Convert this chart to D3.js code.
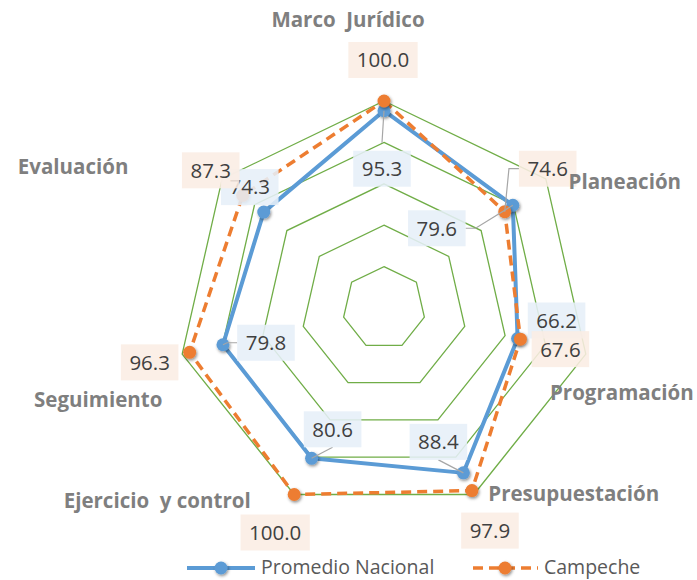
<!DOCTYPE html>
<html>
<head>
<meta charset="utf-8">
<script src="https://cdn.jsdelivr.net/npm/d3@7/dist/d3.min.js"></script>
<style>
  html, body { margin: 0; padding: 0; background: #fff; }
  svg { display: block; }
  text { font-family: "Open Sans", "Liberation Sans", sans-serif; white-space: pre; }
</style>
</head>
<body>
<svg id="chart" width="697" height="580"></svg>
<script>
// ---- data ----
const categories = ["Marco  Jurídico", "Planeación", "Programación", "Presupuestación", "Ejercicio  y control", "Seguimiento", "Evaluación"];
const promedioNacional = [95.3, 79.6, 66.2, 88.4, 80.6, 79.8, 74.3];
const campeche = [100.0, 74.6, 67.6, 97.9, 100.0, 96.3, 87.3];
const ringTicks = [20, 40, 60, 80, 100];
const seriesNames = ["Promedio Nacional", "Campeche"];

// ---- layout (pixel offsets, not data) ----
const catLabelOffsets = [[-36, -74], [79, 10], [36, 46], [100, 6], [-137, 13], [-84, 53], [-149, -5]];
const promLabelOffsets = [[-2, 58], [-76, 23], [39, -18], [-25, -31], [21, -29], [43, -2], [-14, -25]];
const campLabelOffsets = [[-1, -41], [43, -43], [40, 10], [18, 40], [-19, 38], [-40, 10], [-32, -25]];
const promLeaders = [true, true, false, true, true, true, false];
const campLeaders = [false, true, false, false, false, false, false];

const cx = 384, cy = 308, R = 207;
const svg = d3.select("#chart");

const defs = svg.append("defs");
const f = defs.append("filter").attr("id", "shadow").attr("x", "-50%").attr("y", "-50%").attr("width", "200%").attr("height", "200%");
f.append("feDropShadow").attr("dx", 1).attr("dy", 1.5).attr("stdDeviation", 1.5).attr("flood-color", "#000").attr("flood-opacity", 0.45);

const n = categories.length;
const angle = d3.scaleLinear().domain([0, n]).range([0, 2 * Math.PI]);
const r = d3.scaleLinear().domain([0, 100]).range([0, R]);
const pt = (i, v) => [cx + r(v) * Math.sin(angle(i)), cy - r(v) * Math.cos(angle(i))];

const g = svg.append("g").attr("transform", `translate(${cx},${cy})`);
const radial = d3.lineRadial().angle((d, i) => angle(i)).radius(d => r(d)).curve(d3.curveLinearClosed);

// grid rings
g.selectAll("path.ring").data(ringTicks).join("path")
  .attr("class", "ring")
  .attr("d", t => radial(d3.range(n).map(() => t)))
  .attr("fill", "none").attr("stroke", "#70ad47").attr("stroke-width", 1.3);

// series lines
g.append("path").attr("d", radial(promedioNacional))
  .attr("fill", "none").attr("stroke", "#5b9bd5").attr("stroke-width", 4).attr("stroke-linejoin", "round");
g.append("path").attr("d", radial(campeche))
  .attr("fill", "none").attr("stroke", "#ed7d31").attr("stroke-width", 3.5).attr("stroke-dasharray", "10,6");

// markers
svg.append("g").selectAll("circle").data(promedioNacional).join("circle")
  .attr("cx", (d, i) => pt(i, d)[0]).attr("cy", (d, i) => pt(i, d)[1]).attr("r", 6.5)
  .attr("fill", "#5b9bd5").attr("filter", "url(#shadow)");
svg.append("g").selectAll("circle").data(campeche).join("circle")
  .attr("cx", (d, i) => pt(i, d)[0]).attr("cy", (d, i) => pt(i, d)[1]).attr("r", 6.5)
  .attr("fill", "#ed7d31").attr("filter", "url(#shadow)");

// data labels
function drawLabels(values, offsets, leaders, fill) {
  const lg = svg.append("g");
  values.forEach((v, i) => {
    const [mx, my] = pt(i, v);
    const lx = mx + offsets[i][0], ly = my + offsets[i][1];
    const t = lg.append("text").attr("x", lx).attr("y", ly).attr("dy", "0.36em")
      .attr("text-anchor", "middle").attr("font-size", 20.5).attr("fill", "#404040")
      .text(v.toFixed(1));
    const w = t.node().getComputedTextLength() + 17, h = 36;
    const x0 = lx - w / 2, x1 = lx + w / 2, y0 = ly - h / 2, y1 = ly + h / 2;
    if (leaders[i]) {
      let pts;
      if (mx < x0) pts = [[x0, ly], [x0 - 10, ly], [mx, my]];
      else if (mx > x1) pts = [[x1, ly], [x1 + 10, ly], [mx, my]];
      else if (my < y0) pts = [[lx, y0 - 8], [mx, my]];
      else pts = [[lx, y1], [mx, my]];
      lg.insert("path", "text").attr("d", d3.line()(pts))
        .attr("fill", "none").attr("stroke", "#a6a6a6").attr("stroke-width", 1.2);
    }
    lg.insert("rect", "text:last-child").attr("x", x0).attr("y", y0).attr("width", w).attr("height", h)
      .attr("fill", fill).attr("fill-opacity", 0.88);
  });
}
drawLabels(promedioNacional, promLabelOffsets, promLeaders, "#e6eff8");
drawLabels(campeche, campLabelOffsets, campLeaders, "#fbede4");

// category labels (on top)
svg.append("g").selectAll("text").data(categories).join("text")
  .attr("x", (d, i) => pt(i, 100)[0] + catLabelOffsets[i][0])
  .attr("y", (d, i) => pt(i, 100)[1] + catLabelOffsets[i][1])
  .attr("text-anchor", "middle")
  .attr("font-size", 20.5).attr("font-weight", "bold").attr("fill", "#7f7f7f")
  .text(d => d);

// legend
const leg = svg.append("g");
const ly = 568;
leg.append("line").attr("x1", 187).attr("x2", 255).attr("y1", ly).attr("y2", ly)
  .attr("stroke", "#5b9bd5").attr("stroke-width", 4);
leg.append("circle").attr("cx", 221).attr("cy", ly).attr("r", 6.5).attr("fill", "#5b9bd5").attr("filter", "url(#shadow)");
leg.append("text").attr("x", 261).attr("y", ly + 6).attr("font-size", 19.5).attr("fill", "#595959").text(seriesNames[0]);
leg.append("line").attr("x1", 473).attr("x2", 538).attr("y1", ly).attr("y2", ly)
  .attr("stroke", "#ed7d31").attr("stroke-width", 3.5).attr("stroke-dasharray", "10,6");
leg.append("circle").attr("cx", 505).attr("cy", ly).attr("r", 6.5).attr("fill", "#ed7d31").attr("filter", "url(#shadow)");
leg.append("text").attr("x", 544).attr("y", ly + 6).attr("font-size", 19.5).attr("fill", "#595959").text(seriesNames[1]);
</script>
</body>
</html>
